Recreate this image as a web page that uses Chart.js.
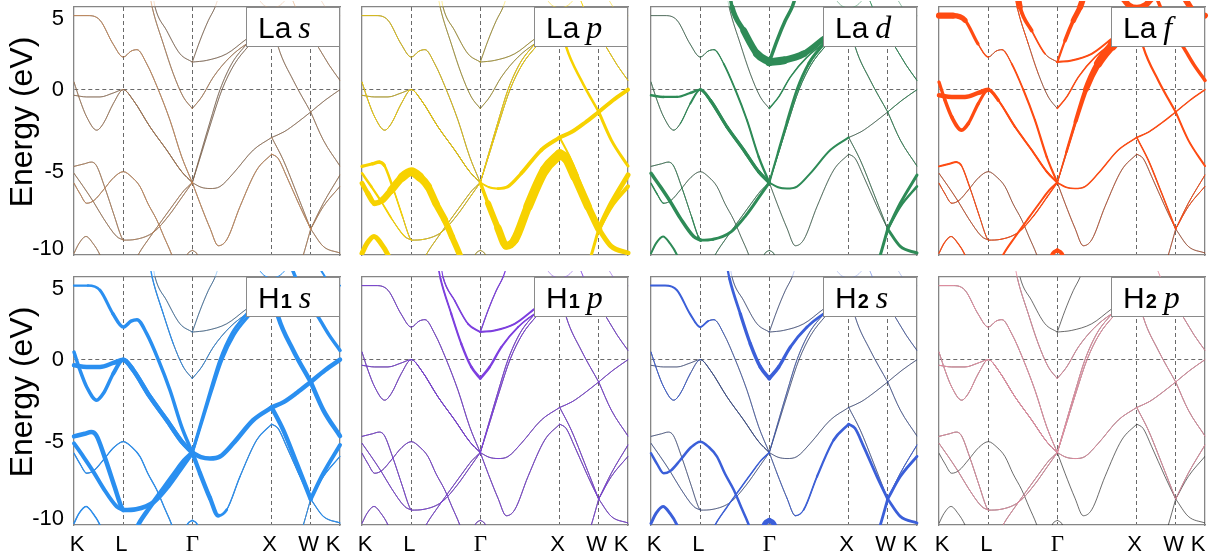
<!DOCTYPE html>
<html lang="en">
<head>
<meta charset="UTF-8">
<title>Projected bands</title>
<style>
  body { margin: 0; background: #fff; }
  #wrap { position: relative; width: 1219px; height: 560px; overflow: hidden; }
  #wrap canvas { position: absolute; }
</style>
</head>
<body>
<div id="wrap"></div>
<script src="https://cdn.jsdelivr.net/npm/chart.js"></script>
<script>
// path coordinate (K..K) and energy ticks
const kTicks = [0, 49.3, 118.3, 197.7, 236.7, 266];
const kLabels = ['K', 'L', 'Γ', 'X', 'W', 'K'];
const eTicks = [5, 0, -5, -10];

// band pieces, [k, E in eV]
// K -> L -> Γ
const bA = [[0,4.48],[14,4.48],[26,4.2],[39,2.77],[49.3,1.97],[57,2.33],[63,2.42],[72.7,1.57],[84.3,0],[96,-1.85],[107.7,-4.06],[118.3,-5.62]];
const bB = [[0,0.46],[6,-0.64],[12.7,-1.65],[22.7,-2.45],[29.3,-2.05],[39.3,-0.84],[49.3,0],[59.3,-0.64],[76,-2.25],[92.7,-3.65],[107.7,-4.96],[118.3,-5.62]];
const bC = [[0,-0.34],[12.7,-0.44],[26,-0.44],[39.3,-0.2],[49.3,0],[59.3,-0.64],[76,-2.25],[92.7,-3.65],[107.7,-4.96],[118.3,-5.62]];
const bE = [[0,-4.64],[10.6,-4.48],[17.3,-4.38],[22.3,-4.58],[30.6,-5.88],[40.6,-7.69],[47.3,-8.89],[49.6,-9.1],[62,-9.05],[80,-8.6],[95,-7.6],[108,-6.5],[118.3,-5.62]];
const bF = [[0,-5.06],[9.3,-5.86],[19.3,-6.77],[29.3,-7.77],[42.7,-8.88],[49.6,-9.1]];
const bG = [[0,-5.66],[6,-6.3],[12.7,-6.87],[20,-6.7],[29.3,-6.07],[40,-5.3],[49.3,-4.96],[58,-5.3],[66,-5.86],[74,-6.9],[82.7,-7.87],[90,-8.9],[97.7,-9.98],[100,-10.4]];
const bH = [[0,-9.9],[5,-9.3],[12,-8.88],[19,-9.3],[26,-10],[29,-10.5]];
const bI = [[60,-10.5],[65,-9.9],[75,-9.0],[88,-7.9],[100,-6.9],[110,-6.1],[118.3,-5.62]];
const bU1L = [[76.5,5.5],[78.5,4.9],[89.3,2.77],[99.3,0.96],[109.3,-0.44],[118.3,-1.14]];
const bU2L = [[79.5,5.5],[81,5.0],[92.7,3.57],[106,2.17],[118.3,1.67]];
const bJL = [[110,-10.5],[114,-9.9],[118.3,-9.72]];
// Γ -> X
const bS1 = [[118.3,-5.62],[127,-3.8],[136,-1.95],[146,0],[158,1.6],[172.7,2.77],[186,3.8],[198,4.3]];
const bS2 = [[118.3,-5.62],[128,-3.75],[137.5,-1.9],[148,0],[160,1.5],[174,2.6],[188,3.5],[198,3.9]];
const bCF = [[118.3,-5.62],[127,-5.9],[136,-5.98],[146,-5.86],[159.3,-5.06],[179.3,-3.65],[197.7,-2.89]];
const bXP = [[118.3,-5.62],[126,-6.87],[136,-8.38],[144.3,-9.44],[152.7,-9.08],[166,-7.07],[182.7,-4.86],[197.7,-3.9]];
const bU1R = [[118.3,-1.14],[127.7,-0.44],[139.3,0.76],[156,1.97],[172.7,2.77],[186,3.2],[198,3.4]];
const bU2R = [[118.3,1.67],[132.7,1.77],[152.7,2.17],[172.7,3.07],[186,3.6],[198,3.8]];
const bU3 = [[118.3,1.67],[126,2.97],[134.3,4.18],[141,4.98],[144,5.5]];
const bJR = [[118.3,-9.72],[122.6,-9.9],[126.6,-10.5]];
// X -> W
const bXWc = [[197.7,-2.89],[210,-2.55],[223,-2.0],[236.7,-1.35]];
const bXWf = [[197.7,-2.89],[209.3,-4.26],[222.7,-6.27],[236.7,-8.43]];
const bXWxp = [[197.7,-3.9],[204,-4.15],[212.7,-5.26],[226,-7.07],[236.7,-8.43]];
const bXWd = [[199,3.9],[204.3,2.57],[219.3,0.56],[236.7,-1.35]];
const bXWbot = [[226,-10.6],[229.3,-10],[236.7,-8.43]];
// W -> K
const bWKc = [[236.7,-1.35],[251,-0.64],[266,0]];
const bWKd = [[236.7,-1.35],[249.3,-3.05],[266,-4.62]];
const bWKf = [[236.7,-8.43],[249.3,-6.87],[266,-5.16]];
const bWKbot = [[236.7,-8.43],[249.3,-7.07],[266,-5.85]];
const bWKxp = [[236.7,-8.43],[249.3,-9.48],[266,-9.88]];
const bWKr = [[218,5.5],[225,4.5],[235,3.4],[244.3,2.57],[255,1.5],[266,0.56]];
const bXT = [[183,5.6],[190,5.1],[198,4.95],[206,5.1],[214,5.6]];
const bKT = [[246,5.5],[255,4.7],[266,4.48]];

const bands = [bA,bB,bC,bE,bF,bG,bH,bI,bU1L,bU2L,bJL,
  bS1,bS2,bCF,bXP,bU1R,bU2R,bU3,bJR,
  bXWc,bXWf,bXWxp,bXWd,bXWbot,
  bWKc,bWKd,bWKf,bWKbot,bWKxp,bWKr,bXT,bKT];

// orbital weights per band piece (number = whole piece, array = per node)
const wLaS = [0.08,0.05,0.04,0.06,0.05,0.08,0.06,0.06,0.06,0.03,0.06,
  0.03,0.03,0.04,0.08,0.06,0.03,0.03,0.06,
  0.04,0.05,0.08,0.04,0.06,
  0.04,0.05,0.05,0.06,0.06,0.05,0.03,0.03];
const wLaP = [0.08,0.1,0.06,
  [0.3,0.35,0.35,0.3,0.2,0.12,0.1,0.1,0.08,0.08,0.08,0.08,0.1],
  [0.25,0.25,0.2,0.15,0.1,0.1],
  [0.45,0.5,0.55,0.6,0.7,0.85,0.95,0.85,0.75,0.7,0.65,0.6,0.6,0.6],
  0.5,0.08,0.04,0.04,0.05,
  0.1,0.1,[0.15,0.2,0.25,0.3,0.35,0.4,0.4],[0.2,0.5,0.7,0.8,0.8,0.9,1,1],0.04,0.04,0.04,0.05,
  0.4,0.2,[1,0.95,0.85,0.75,0.65],0.25,0.3,
  0.4,0.3,0.5,0.4,0.5,0.1,0.05,0.05];
const wLaD = [
  [0.03,0.03,0.03,0.04,0.05,0.08,0.1,0.15,0.2,0.2,0.22,0.25],
  [0.05,0.05,0.05,0.05,0.08,0.15,0.25,0.3,0.32,0.32,0.32,0.35],
  [0.25,0.25,0.22,0.22,0.25,0.3,0.3,0.3,0.3,0.35],
  [0.05,0.05,0.05,0.06,0.08,0.1,0.15,0.25,0.3,0.3,0.3,0.3,0.3],
  0.35,
  [0.15,0.15,0.1,0.05,0.04,0.03,0.03,0.03,0.03,0.03,0.03,0.03,0.03,0.03],
  0.2,0.06,0.03,[0.3,0.4,0.6,0.75,0.85],0.05,
  [0.2,0.22,0.25,0.28,0.3,0.35,0.35,0.35],0.1,0.2,0.03,0.15,[0.85,0.75,0.65,0.55,0.5,0.5],0.35,0.05,
  0.03,0.05,0.03,0.08,0.3,
  0.08,0.08,0.3,0.25,0.3,0.1,0.05,0.05];
const wLaF = [
  [0.65,0.6,0.45,0.2,0.08,0.08,0.1,0.15,0.2,0.22,0.22,0.2],
  [0.3,0.35,0.35,0.4,0.35,0.3,0.3,0.2,0.18,0.18,0.18,0.2],
  [0.45,0.45,0.45,0.45,0.45,0.2,0.18,0.18,0.18,0.2],
  [0.2,0.2,0.2,0.15,0.12,0.1,0.1,0.1,0.1,0.12,0.12,0.15,0.15],
  0.06,
  [0.1,0.1,0.08,0.06,0.05,0.04,0.04,0.04,0.04,0.04,0.04,0.04,0.04,0.04],
  0.12,0.2,[0.15,0.12,0.08,0.05,0.03,0.03],[0.6,0.5,0.25,0.1,0.05],0.4,
  [0.1,0.15,0.25,0.35,0.5,0.7,0.8,0.8],[0.1,0.12,0.2,0.3,0.45,0.65,0.8,0.8],0.15,0.05,0.15,0.2,[0.15,0.3,0.45,0.6,0.6],0.4,
  0.15,0.15,0.05,0.22,0.05,
  0.15,0.2,0.1,0.1,0.04,0.35,0.6,0.6];
const wH1s = [
  [0.22,0.22,0.28,0.35,0.35,0.35,0.35,0.35,0.35,0.35,0.35,0.35],
  [0.35,0.35,0.35,0.35,0.35,0.35,0.45,0.45,0.45,0.45,0.45,0.45],0.45,0.45,0.4,0.13,0.15,0.45,[0.15,0.13,0.12,0.1,0.08,0.06],0.04,0.15,
  0.3,0.3,0.45,[0.4,0.45,0.45,0.4,0.15,0.12,0.12,0.12],0.08,0.03,0.04,0.15,
  0.45,0.45,0.12,0.45,0.1,
  0.45,0.45,0.4,0.12,0.12,0.35,0.1,0.2];
const wH1p = [0.09,0.09,0.09,0.09,0.09,0.09,0.09,0.09,[0.15,0.18,0.2,0.22,0.25,0.28],[0.1,0.12,0.15,0.18,0.2],0.08,
  0.1,0.1,0.09,0.09,[0.28,0.25,0.2,0.18,0.15,0.15,0.15],0.2,0.12,0.08,
  0.09,0.09,0.09,0.09,0.09,
  0.09,0.09,0.09,0.09,0.09,0.09,0.05,0.05];
const wH2s = [
  [0.2,0.2,0.2,0.2,0.2,0.15,0.1,0.06,0.05,0.05,0.05,0.05],
  [0.1,0.1,0.1,0.1,0.1,0.08,0.05,0.03,0.03,0.03,0.03,0.03],
  0.03,0.03,0.04,0.25,0.3,0.15,[0.2,0.25,0.3,0.35,0.35,0.4],0.03,0.5,
  0.06,0.03,0.03,[0.05,0.06,0.08,0.1,0.15,0.2,0.25,0.28],[0.4,0.35,0.3,0.28,0.25,0.25,0.25],0.03,0.03,0.5,
  0.03,0.04,0.28,0.04,0.28,
  0.03,0.04,0.1,0.28,0.28,0.05,0.03,0.03];
const wH2p = [0.1,0.1,0.1,0.09,0.09,0,0,0.09,0.09,0,0,
  0.1,0.1,0.09,0,0.09,0,0,0,
  0.09,0.09,0,0.09,0,
  0.09,0.09,0.09,0,0,0.09,0,0];

const panels = [
  {atom: 'La', orb: 's', color: '#d9925a', w: wLaS},
  {atom: 'La', orb: 'p', color: '#f7d200', w: wLaP},
  {atom: 'La', orb: 'd', color: '#2e8b57', w: wLaD},
  {atom: 'La', orb: 'f', color: '#ff4b12', w: wLaF},
  {atom: 'H', sub: '1', orb: 's', color: '#2a8ff0', w: wH1s},
  {atom: 'H', sub: '1', orb: 'p', color: '#7d3ee0', w: wH1p},
  {atom: 'H', sub: '2', orb: 's', color: '#3b5fd9', w: wH2s},
  {atom: 'H', sub: '2', orb: 'p', color: '#e88fa3', w: wH2p}
];

const colLeft = [74, 362, 651, 939];
const rowTop = [7, 277];
const PW = 266, PH = 248;
const PAD = {left: 74, top: 7, right: 12, bottom: 35};

const sans = '"Liberation Sans", Arial, sans-serif';
const serif = '"Liberation Serif", "Times New Roman", serif';

const wAt = (w, i) => Array.isArray(w) ? w[Math.min(i, w.length - 1)] : w;
const toXY = nodes => nodes.map(([k, e]) => ({x: k, y: e}));

function makeDatasets(weights, color) {
  const ds = [];
  bands.forEach(nodes => {
    ds.push({data: toXY(nodes), borderColor: 'rgba(35,35,35,0.85)', borderWidth: 0.8, order: 2});
  });
  bands.forEach((nodes, b) => {
    const ws = nodes.map((_, i) => wAt(weights[b], i));
    const top = Math.max(...ws);
    if (top <= 0) return;
    ds.push({
      data: toXY(nodes),
      borderColor: color,
      borderWidth: top * 10,
      order: 1,
      clip: {left: 3, top: 6, right: 6, bottom: 0},
      segment: {
        borderWidth: c => Math.max(0.05, 5 * (ws[c.p0DataIndex] + ws[c.p1DataIndex]))
      }
    });
  });
  return ds;
}

const labelShift = [3, -2, 0, -2, -2, -7];

const panelText = {
  id: 'panelText',
  afterDatasetsDraw(chart, args, o) {
    const {ctx, chartArea: a} = chart;
    const bw = 94, bh = 40, bx = a.right - bw, by = a.top;
    ctx.save();
    ctx.fillStyle = '#fff';
    ctx.fillRect(bx, by, bw, bh);
    ctx.strokeStyle = '#8a8a8a';
    ctx.lineWidth = 1;
    ctx.strokeRect(bx + 0.5, by + 0.5, bw - 1, bh - 1);
    ctx.fillStyle = '#000';
    ctx.textBaseline = 'alphabetic';
    const base = by + 31;
    let x = bx + 12;
    ctx.font = '30px ' + sans;
    ctx.fillText(o.atom, x, base);
    x += ctx.measureText(o.atom).width;
    if (o.sub) {
      ctx.font = 'bold 20px ' + sans;
      x += 1;
      ctx.fillText(o.sub, x, base);
      x += ctx.measureText(o.sub).width;
    }
    x += 7;
    ctx.font = 'italic 32px ' + serif;
    ctx.fillText(o.orb, x, base);
    ctx.restore();
  },
  afterDraw(chart, args, o) {
    const {ctx, chartArea: a, scales} = chart;
    ctx.save();
    ctx.fillStyle = '#000';
    if (o.showY) {
      ctx.font = '22px ' + sans;
      ctx.textAlign = 'right';
      ctx.textBaseline = 'middle';
      eTicks.forEach(v => {
        let y = scales.y.getPixelForValue(v);
        y = Math.min(Math.max(y, a.top + 12), a.bottom - 6);
        ctx.fillText(String(v), a.left - 10, y);
      });
      ctx.save();
      ctx.translate(23, (a.top + a.bottom) / 2 - 9);
      ctx.rotate(-Math.PI / 2);
      ctx.textAlign = 'center';
      ctx.font = '32px ' + sans;
      ctx.fillText('Energy (eV)', 0, 0);
      ctx.restore();
    }
    if (o.showX) {
      ctx.textAlign = 'center';
      ctx.textBaseline = 'middle';
      kTicks.forEach((k, i) => {
        const lab = kLabels[i];
        ctx.font = (lab === 'Γ' ? '23px ' + serif : '22px ' + sans);
        ctx.fillText(lab, scales.x.getPixelForValue(k) + labelShift[i], a.bottom + 20);
      });
    }
    ctx.restore();
  }
};

const wrap = document.getElementById('wrap');
panels.forEach((p, n) => {
  const r = Math.floor(n / 4), c = n % 4;
  const cv = document.createElement('canvas');
  cv.width = PW + PAD.left + PAD.right;
  cv.height = PH + PAD.top + PAD.bottom;
  cv.style.left = (colLeft[c] - PAD.left) + 'px';
  cv.style.top = (rowTop[r] - PAD.top) + 'px';
  wrap.appendChild(cv);

  new Chart(cv, {
    type: 'line',
    data: {datasets: makeDatasets(p.w, p.color)},
    plugins: [panelText],
    options: {
      responsive: false,
      animation: false,
      devicePixelRatio: 1,
      events: [],
      parsing: false,
      layout: {padding: PAD},
      elements: {
        point: {radius: 0},
        line: {cubicInterpolationMode: 'monotone', borderCapStyle: 'round', borderJoinStyle: 'round', fill: false}
      },
      plugins: {
        legend: {display: false},
        tooltip: {enabled: false},
        panelText: {atom: p.atom, sub: p.sub, orb: p.orb, showY: c === 0, showX: r === 1}
      },
      scales: {
        x: {
          type: 'linear', min: 0, max: 266,
          afterBuildTicks: ax => { ax.ticks = kTicks.map(v => ({value: v})); },
          ticks: {display: false},
          grid: {
            drawTicks: false, lineWidth: 1, borderDash: [4, 3],
            color: cx => (cx.tick && cx.tick.value > 0 && cx.tick.value < 266) ? '#6a6a6a' : 'rgba(0,0,0,0)'
          },
          border: {display: true, color: '#858585', width: 1.3, dash: [4, 3]}
        },
        y: {
          type: 'linear', min: -10, max: 5,
          afterBuildTicks: ax => { ax.ticks = eTicks.map(v => ({value: v})); },
          ticks: {display: false},
          grid: {
            drawTicks: false, lineWidth: 1, borderDash: [4, 3],
            color: cx => (cx.tick && cx.tick.value === 0) ? '#6a6a6a' : 'rgba(0,0,0,0)'
          },
          border: {display: true, color: '#858585', width: 1.3, dash: [4, 3]}
        },
        x2: {
          type: 'linear', position: 'top', min: 0, max: 266,
          ticks: {display: false}, grid: {display: false, drawTicks: false},
          border: {display: true, color: '#858585', width: 1.3}
        },
        y2: {
          type: 'linear', position: 'right', min: -10, max: 5,
          ticks: {display: false}, grid: {display: false, drawTicks: false},
          border: {display: true, color: '#858585', width: 1.3}
        }
      }
    }
  });
});
</script>
</body>
</html>
